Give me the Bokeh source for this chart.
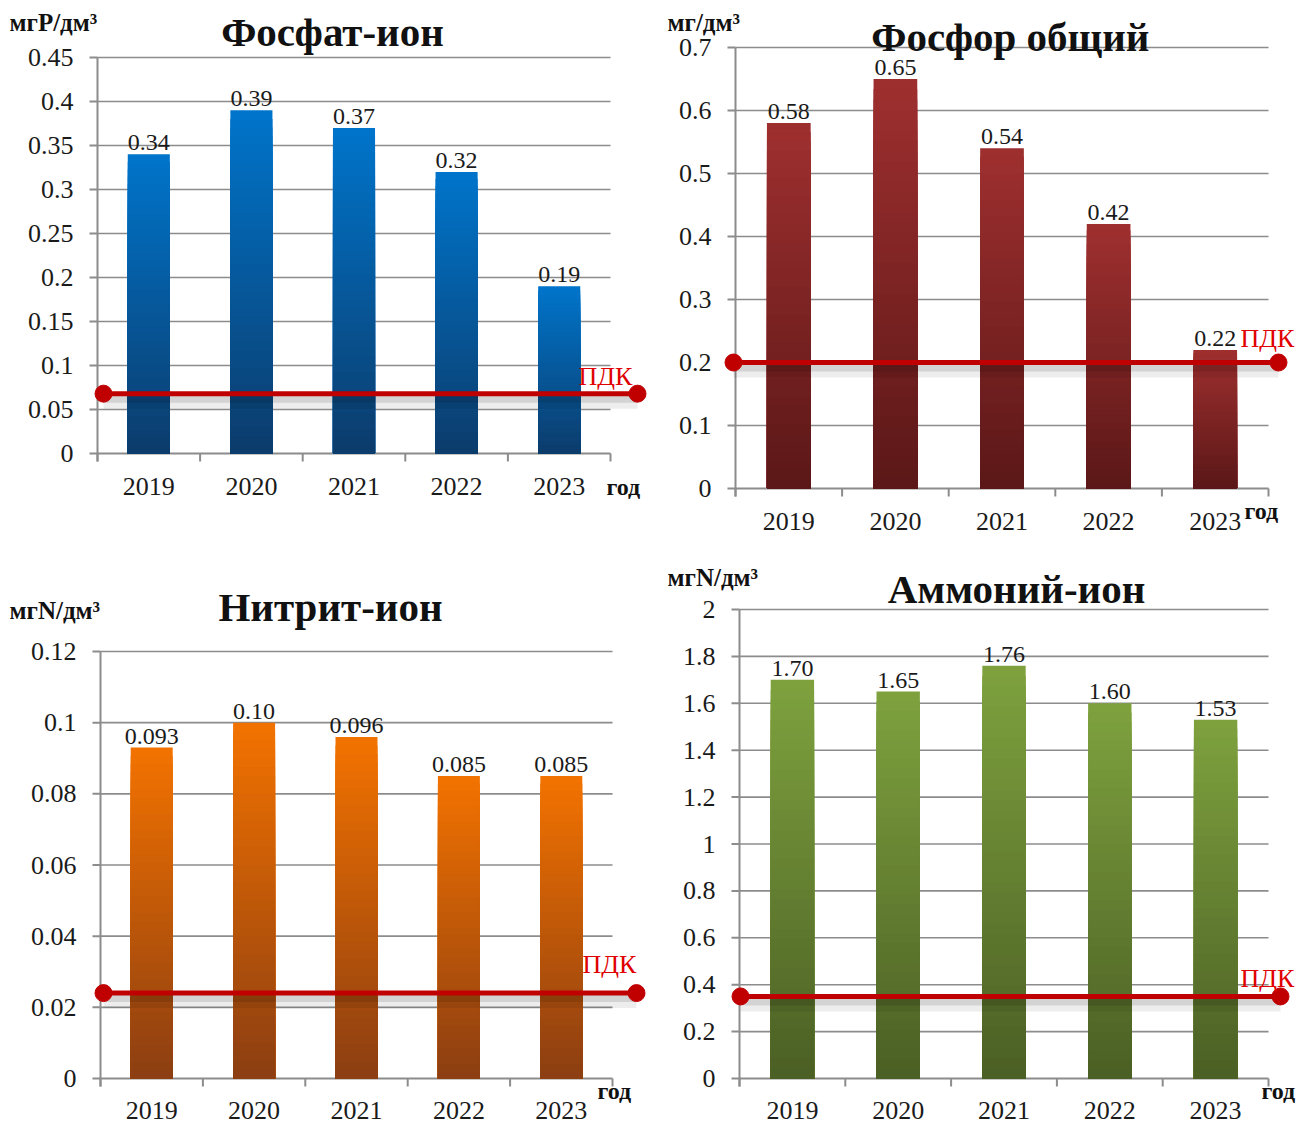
from bokeh.plotting import figure
from bokeh.layouts import column, row
from bokeh.models import Range1d
from bokeh.core.properties import value
from bokeh.embed import file_html
from bokeh.resources import INLINE

# ---------------- data ----------------
years = ["2019", "2020", "2021", "2022", "2023"]

phosphate_vals = [0.34, 0.39, 0.37, 0.32, 0.19]
phosphate_labels = ["0.34", "0.39", "0.37", "0.32", "0.19"]
phosphate_ticks = [0, 0.05, 0.1, 0.15, 0.2, 0.25, 0.3, 0.35, 0.4, 0.45]
phosphate_tick_labels = ["0", "0.05", "0.1", "0.15", "0.2", "0.25", "0.3", "0.35", "0.4", "0.45"]
phosphate_pdk = 0.068

ptotal_vals = [0.58, 0.65, 0.54, 0.42, 0.22]
ptotal_labels = ["0.58", "0.65", "0.54", "0.42", "0.22"]
ptotal_ticks = [0, 0.1, 0.2, 0.3, 0.4, 0.5, 0.6, 0.7]
ptotal_tick_labels = ["0", "0.1", "0.2", "0.3", "0.4", "0.5", "0.6", "0.7"]
ptotal_pdk = 0.2

nitrite_vals = [0.093, 0.10, 0.096, 0.085, 0.085]
nitrite_labels = ["0.093", "0.10", "0.096", "0.085", "0.085"]
nitrite_ticks = [0, 0.02, 0.04, 0.06, 0.08, 0.1, 0.12]
nitrite_tick_labels = ["0", "0.02", "0.04", "0.06", "0.08", "0.1", "0.12"]
nitrite_pdk = 0.024

ammonium_vals = [1.70, 1.65, 1.76, 1.60, 1.53]
ammonium_labels = ["1.70", "1.65", "1.76", "1.60", "1.53"]
ammonium_ticks = [0, 0.2, 0.4, 0.6, 0.8, 1, 1.2, 1.4, 1.6, 1.8, 2]
ammonium_tick_labels = ["0", "0.2", "0.4", "0.6", "0.8", "1", "1.2", "1.4", "1.6", "1.8", "2"]
ammonium_pdk = 0.35

FONT = value("Liberation Serif")
GRAY = "#8c8c8c"
TXT = "#1a1a1a"


def hex2rgb(h):
    h = h.lstrip("#")
    return [int(h[i:i + 2], 16) for i in (0, 2, 4)]


def lerp(c1, c2, f):
    a, b = hex2rgb(c1), hex2rgb(c2)
    return "#%02x%02x%02x" % tuple(int(round(a[i] + (b[i] - a[i]) * f)) for i in range(3))


def make_panel(g, title, unit, vals, labels, ticks, tick_labels, pdk, c_top, c_bot):
    ox, oy, W, H = g["ox"], g["oy"], g["W"], g["H"]
    cpx = (g["cat_right"] - g["ax_left"]) / 5.0
    ymax = ticks[-1]
    ypx = (g["y0_px"] - g["y_top_px"]) / ymax

    def X(px):
        return -0.5 + (px - g["ax_left"]) / cpx

    def Y(py):
        return (g["y0_px"] - py) / ypx

    p = figure(width=W, height=H,
               x_range=Range1d(X(ox), X(ox + W)),
               y_range=Range1d(Y(oy + H), Y(oy)),
               x_axis_location=None, y_axis_location=None,
               output_backend="svg", toolbar_location=None,
               min_border=0, min_border_left=0, min_border_right=0,
               min_border_top=0, min_border_bottom=0)
    p.outline_line_color = None
    p.background_fill_color = "white"
    p.border_fill_color = "white"
    p.xgrid.visible = False
    p.ygrid.visible = False

    n = len(vals)
    xs = list(range(n))
    left, right = -0.5, n - 0.5
    tick_len = 8

    # horizontal grid lines
    gt = [t for t in ticks if t > 0]
    p.segment(x0=[left] * len(gt), x1=[right] * len(gt), y0=gt, y1=gt,
              line_color=GRAY, line_width=1.6)

    # y axis: line, ticks, labels
    p.segment(x0=[left], x1=[left], y0=[-tick_len / ypx], y1=[ymax],
              line_color=GRAY, line_width=2)
    xt = X(g["ax_left"] - tick_len)
    p.segment(x0=[xt] * len(ticks), x1=[left] * len(ticks), y0=ticks, y1=ticks,
              line_color=GRAY, line_width=2)
    p.text(x=[X(g["ax_left"] - 24)] * len(ticks), y=ticks, text=tick_labels,
           text_align="right", text_baseline="middle", text_font=FONT,
           text_font_size="26px", text_color=TXT)

    # x axis: line, boundary ticks, year labels
    p.segment(x0=[left], x1=[right], y0=[0], y1=[0], line_color=GRAY, line_width=2)
    bnd = [i - 0.5 for i in range(n + 1)]
    p.segment(x0=bnd, x1=bnd, y0=[0] * len(bnd), y1=[-tick_len / ypx] * len(bnd),
              line_color=GRAY, line_width=2)
    p.text(x=xs, y=[Y(g["year_cy"])] * n, text=years, text_align="center",
           text_baseline="middle", text_font=FONT, text_font_size="26px", text_color=TXT)

    # bars with vertical gradient
    bw = 0.41
    p.vbar(x=xs, top=vals, bottom=0, width=bw, fill_color=c_top, line_color=None)
    N = 40
    gx, gtop, gcol = [], [], []
    for k in range(1, N):
        f = k / N
        col = lerp(c_top, c_bot, f)
        for i, v in enumerate(vals):
            gx.append(i)
            gtop.append(v * (1 - f))
            gcol.append(col)
    p.vbar(x=gx, top=gtop, bottom=0, width=bw, fill_color=gcol, line_color=None)

    # value labels
    p.text(x=xs, y=vals, text=labels, text_align="center", text_baseline="bottom",
           y_offset=-4, text_font=FONT, text_font_size="24px", text_color=TXT)

    # PDK line with soft shadow
    x0, x1 = X(g["pdk_x0"]), X(g["pdk_x1"])
    p.line([x0, x1], [pdk - 7 / ypx] * 2, line_color="black", line_alpha=0.07, line_width=16)
    p.line([x0, x1], [pdk - 5 / ypx] * 2, line_color="black", line_alpha=0.11, line_width=8)
    p.line([x0, x1], [pdk, pdk], line_color="#c00000", line_width=5)
    p.scatter([x0, x1], [pdk, pdk], size=17, fill_color="#c00000", line_color="#c00000")
    p.text(x=[X(g["pdk_tx"])], y=[Y(g["pdk_ty"])], text=["ПДК"], text_align="left",
           text_baseline="middle", text_font=FONT, text_font_size="26px",
           text_color="#e00000")

    # titles and unit / axis captions
    p.text(x=[X(g["title_cx"])], y=[Y(g["title_cy"])], text=[title], text_align="center",
           text_baseline="middle", text_font=FONT, text_font_style="bold",
           text_font_size="41px", text_color="#111111")
    p.text(x=[X(g["unit_x"])], y=[Y(g["unit_cy"])], text=[unit], text_align="left",
           text_baseline="middle", text_font=FONT, text_font_style="bold",
           text_font_size="25px", text_color="#111111")
    p.text(x=[X(g["god_x"])], y=[Y(g["god_cy"])], text=["год"], text_align="left",
           text_baseline="middle", text_font=FONT, text_font_style="bold",
           text_font_size="24px", text_color="#111111")
    return p


g1 = dict(ox=0, oy=0, W=657, H=555, ax_left=97, cat_right=610,
          y_top_px=57, y0_px=453, year_cy=486, pdk_x0=103, pdk_x1=637,
          title_cx=332, title_cy=31, unit_x=9, unit_cy=22, god_x=606, god_cy=486,
          pdk_tx=578, pdk_ty=376)
g2 = dict(ox=657, oy=0, W=657, H=555, ax_left=735, cat_right=1268,
          y_top_px=47, y0_px=488, year_cy=521, pdk_x0=733, pdk_x1=1278,
          title_cx=1015, title_cy=36, unit_x=667, unit_cy=22, god_x=1244, god_cy=510,
          pdk_tx=1240, pdk_ty=338)
g3 = dict(ox=0, oy=555, W=657, H=569, ax_left=100, cat_right=612,
          y_top_px=651, y0_px=1078, year_cy=1110, pdk_x0=103, pdk_x1=636,
          title_cx=330, title_cy=606, unit_x=9, unit_cy=610, god_x=597, god_cy=1090,
          pdk_tx=582, pdk_ty=964)
g4 = dict(ox=657, oy=555, W=657, H=569, ax_left=739, cat_right=1268,
          y_top_px=609, y0_px=1078, year_cy=1110, pdk_x0=740, pdk_x1=1280,
          title_cx=1016, title_cy=588, unit_x=667, unit_cy=577, god_x=1261, god_cy=1090,
          pdk_tx=1240, pdk_ty=978)

p1 = make_panel(g1, "Фосфат-ион", "мгР/дм³", phosphate_vals, phosphate_labels,
                phosphate_ticks, phosphate_tick_labels, phosphate_pdk, "#0074ca", "#0c3b6a")
p2 = make_panel(g2, "Фосфор  общий", "мг/дм³", ptotal_vals, ptotal_labels,
                ptotal_ticks, ptotal_tick_labels, ptotal_pdk, "#9e2f2f", "#5a1717")
p3 = make_panel(g3, "Нитрит-ион", "мгN/дм³", nitrite_vals, nitrite_labels,
                nitrite_ticks, nitrite_tick_labels, nitrite_pdk, "#f27200", "#8a3d12")
p4 = make_panel(g4, "Аммоний-ион", "мгN/дм³", ammonium_vals, ammonium_labels,
                ammonium_ticks, ammonium_tick_labels, ammonium_pdk, "#7ea13e", "#4a5e24")

layout = column(row(p1, p2), row(p3, p4))
open("out.html", "w").write(file_html(layout, INLINE))
